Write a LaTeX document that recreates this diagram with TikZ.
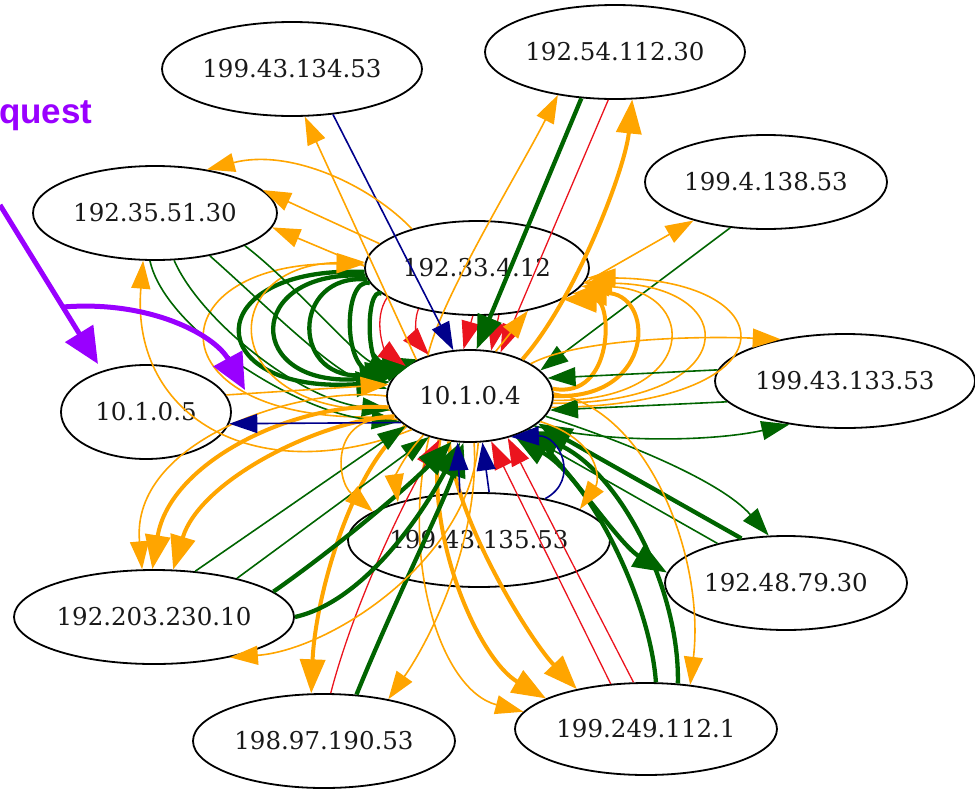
\documentclass[tikz,border=0pt]{standalone}
\usepackage{fontspec}
\usetikzlibrary{shapes.geometric,arrows.meta}
\newfontfamily\nodefont{DejaVu Serif}
\newfontfamily\annfont{Liberation Sans}
\definecolor{orng}{RGB}{255,165,0}
\definecolor{dgreen}{RGB}{0,100,0}
\definecolor{navyc}{RGB}{0,0,139}
\definecolor{redc}{RGB}{235,20,30}
\definecolor{purp}{RGB}{153,0,255}
\tikzset{
  nd/.style={ellipse, draw=black, line width=1.8pt, inner sep=0pt, text=black!90,
             font=\nodefont\fontsize{24.5}{28}\selectfont},
  tipA/.style={-{Triangle[length=28pt,width=19pt]}},
  tipB/.style={-{Triangle[length=34pt,width=25pt]}},
  o1/.style={draw=orng, line width=1.6pt, tipA},
  o2/.style={draw=orng, line width=4pt, tipB},
  g1/.style={draw=dgreen, line width=1.6pt, tipA},
  g2/.style={draw=dgreen, line width=4.3pt, tipB},
  r1/.style={draw=redc, line width=1.3pt, tipA},
  n1/.style={draw=navyc, line width=1.6pt, tipA},
  pu/.style={draw=purp, line width=5pt, -{Triangle[length=36pt,width=32pt]}},
}
\begin{document}
\begin{tikzpicture}[x=1pt,y=-1pt]
\useasboundingbox (0,0) rectangle (975,788);

% nodes
\node[nd, minimum width=260pt, minimum height=94pt] (A) at (292,69) {199.43.134.53};
\node[nd, minimum width=260pt, minimum height=94pt] (P) at (615,52) {192.54.112.30};
\node[nd, minimum width=242pt, minimum height=94pt] (Q) at (766,182) {199.4.138.53};
\node[nd, minimum width=244pt, minimum height=94pt] (L) at (155,213) {192.35.51.30};
\node[nd, minimum width=224pt, minimum height=94pt] (B) at (477,268) {192.33.4.12};
\node[nd, minimum width=166pt, minimum height=92pt] (C) at (470,396) {10.1.0.4};
\node[nd, minimum width=170pt, minimum height=94pt] (F) at (146,412) {10.1.0.5};
\node[nd, minimum width=260pt, minimum height=94pt] (R) at (845,381) {199.43.133.53};
\node[nd, minimum width=262pt, minimum height=94pt] (D) at (479,540) {199.43.135.53};
\node[nd, minimum width=242pt, minimum height=94pt] (G) at (786,583) {192.48.79.30};
\node[nd, minimum width=280pt, minimum height=94pt] (H) at (154,617) {192.203.230.10};
\node[nd, minimum width=262pt, minimum height=94pt] (J) at (324,741) {198.97.190.53};
\node[nd, minimum width=262pt, minimum height=92pt] (K) at (646,729) {199.249.112.1};

% B -> C green loops (left)
\draw[g2] (B.182) .. controls (198,265) and (198,395) .. (C.170);
\draw[g2] (B.184) .. controls (243,268) and (243,390) .. (C.165);
\draw[g2] (B.186) .. controls (290,272) and (290,385) .. (C.160);
\draw[g2] (B.188) .. controls (342,276) and (342,380) .. (C.152);
\draw[g2] (B.195) .. controls (365,285) and (365,375) .. (C.145);

% C -> B orange loops (left)
\draw[o1] (C.195) .. controls (150,430) and (150,262) .. (B.178);
\draw[o1] (C.190) .. controls (215,415) and (215,265) .. (B.177);

% red B -> C
\draw[r1] (B.198) .. controls (372,320) and (385,350) .. (C.155);
\draw[r1] (B.215) .. controls (412,325) and (420,345) .. (C.135);
\draw[r1] (B.265) -- (C.98);
\draw[r1] (B.295) -- (C.65);

% P edges
\draw[g2] (P.234) -- (C.82);
\draw[r1] (P.262) -- (C.55);
\draw[o2] (C.35) .. controls (575,300) and (625,170) .. (P.290);
\draw[o1] (C.136) .. controls (440,300) and (520,170) .. (P.217);

% A edges
\draw[n1] (A.312) -- (C.110);
\draw[o1] (C.146) -- (A.285);

% L edges
\draw[o1] (B.149) .. controls (370,185) and (290,148) .. (L.40);
\draw[o1] (B.166) -- (L.12);
\draw[o1] (B.179) -- (L.353);
\draw[o1] (C.210) .. controls (260,490) and (130,420) .. (L.256);
\draw[g1] (L.264) .. controls (165,330) and (300,415) .. (C.200);
\draw[g1] (L.292) .. controls (200,320) and (300,400) .. (C.190);
\draw[g1] (L.322) .. controls (260,300) and (330,370) .. (C.175);
\draw[g1] (L.340) .. controls (290,280) and (350,350) .. (C.165);

% Q edges
\draw[g1] (Q.232) -- (C.20);
\draw[o1] (B.352) -- (Q.208);

% C -> B orange loops (right)
\draw[o2] (C.5) .. controls (615,400) and (612,300) .. (B.340);
\draw[o2] (C.0) .. controls (657,400) and (655,292) .. (B.345);
\draw[o1] (C.357) .. controls (702,402) and (700,288) .. (B.350);
\draw[o1] (C.355) .. controls (746,404) and (744,284) .. (B.352);
\draw[o1] (C.352) .. controls (795,406) and (790,280) .. (B.355);
\draw[o1] (C.60) -- (B.320);

% R edges
\draw[o1] (C.28) .. controls (580,338) and (700,336) .. (R.147);
\draw[g1] (R.175) -- (C.13);
\draw[g1] (R.190) -- (C.350);
\draw[g1] (C.335) .. controls (620,445) and (720,440) .. (R.218);

% G edges
\draw[g1] (C.345) .. controls (620,440) and (720,480) .. (G.110);
\draw[g2] (C.330) .. controls (570,470) and (620,545) .. (G.175);
\draw[g2] (G.135) -- (C.338);
\draw[g1] (G.150) -- (C.325);

% K edges
\draw[g2] (K.78) .. controls (650,600) and (590,480) .. (C.318);
\draw[g2] (K.55) .. controls (680,590) and (620,470) .. (C.328);
\draw[r1] (K.128) -- (C.295);
\draw[r1] (K.105) -- (C.312);
\draw[o1] (C.2) .. controls (650,410) and (705,560) .. (K.45);
\draw[o2] (C.245) .. controls (455,520) and (530,640) .. (K.150);
\draw[o2] (C.235) .. controls (425,540) and (480,660) .. (K.163);
\draw[o1] (C.225) .. controls (400,560) and (440,690) .. (K.172);

% J edges
\draw[o2] (C.205) .. controls (350,470) and (315,600) .. (J.105);
\draw[r1] (J.82) .. controls (355,600) and (405,500) .. (C.235);
\draw[g2] (J.55) .. controls (395,600) and (445,500) .. (C.262);
\draw[o1] (C.275) .. controls (480,540) and (430,640) .. (J.33);

% H edges
\draw[o1] (C.180) .. controls (300,385) and (130,440) .. (H.104);
\draw[o2] (C.188) .. controls (300,400) and (170,460) .. (H.92);
\draw[o2] (C.195) .. controls (320,420) and (200,480) .. (H.68);
\draw[g1] (H.48) -- (C.205);
\draw[g1] (H.25) -- (C.225);
\draw[g2] (H.12) .. controls (340,545) and (410,485) .. (C.248);
\draw[g2] (H.0) .. controls (370,600) and (430,500) .. (C.258);
\draw[o1] (C.280) .. controls (470,560) and (330,650) .. (H.332);

% F edges
\draw[n1] (C.201) -- (F.352);
\draw[o1] (F.12) -- (C.172);

% D edges
\draw[n1] (D.112) -- (C.255);
\draw[n1] (D.78) -- (C.285);
\draw[n1] (D.32) .. controls (580,480) and (560,435) .. (C.315);
\draw[o1] (C.198) .. controls (330,410) and (335,480) .. (D.165);
\draw[o1] (C.220) .. controls (400,460) and (395,480) .. (D.155);
\draw[o1] (C.340) .. controls (600,440) and (600,480) .. (D.17);

% purple annotation
\node[anchor=base west, inner sep=0pt, text=purp, font=\annfont\bfseries\fontsize{35}{40}\selectfont] (qt) at (-1,123) {quest};
\coordinate (pa) at (0,205);
\coordinate (pb) at (98,364);
\coordinate (pc) at (63,307);
\coordinate (pd) at (245,390);
\draw[pu] (pa) -- (pb);
\draw[pu] (pc) .. controls (150,300) and (215,335) .. (pd);
\end{tikzpicture}
\end{document}
